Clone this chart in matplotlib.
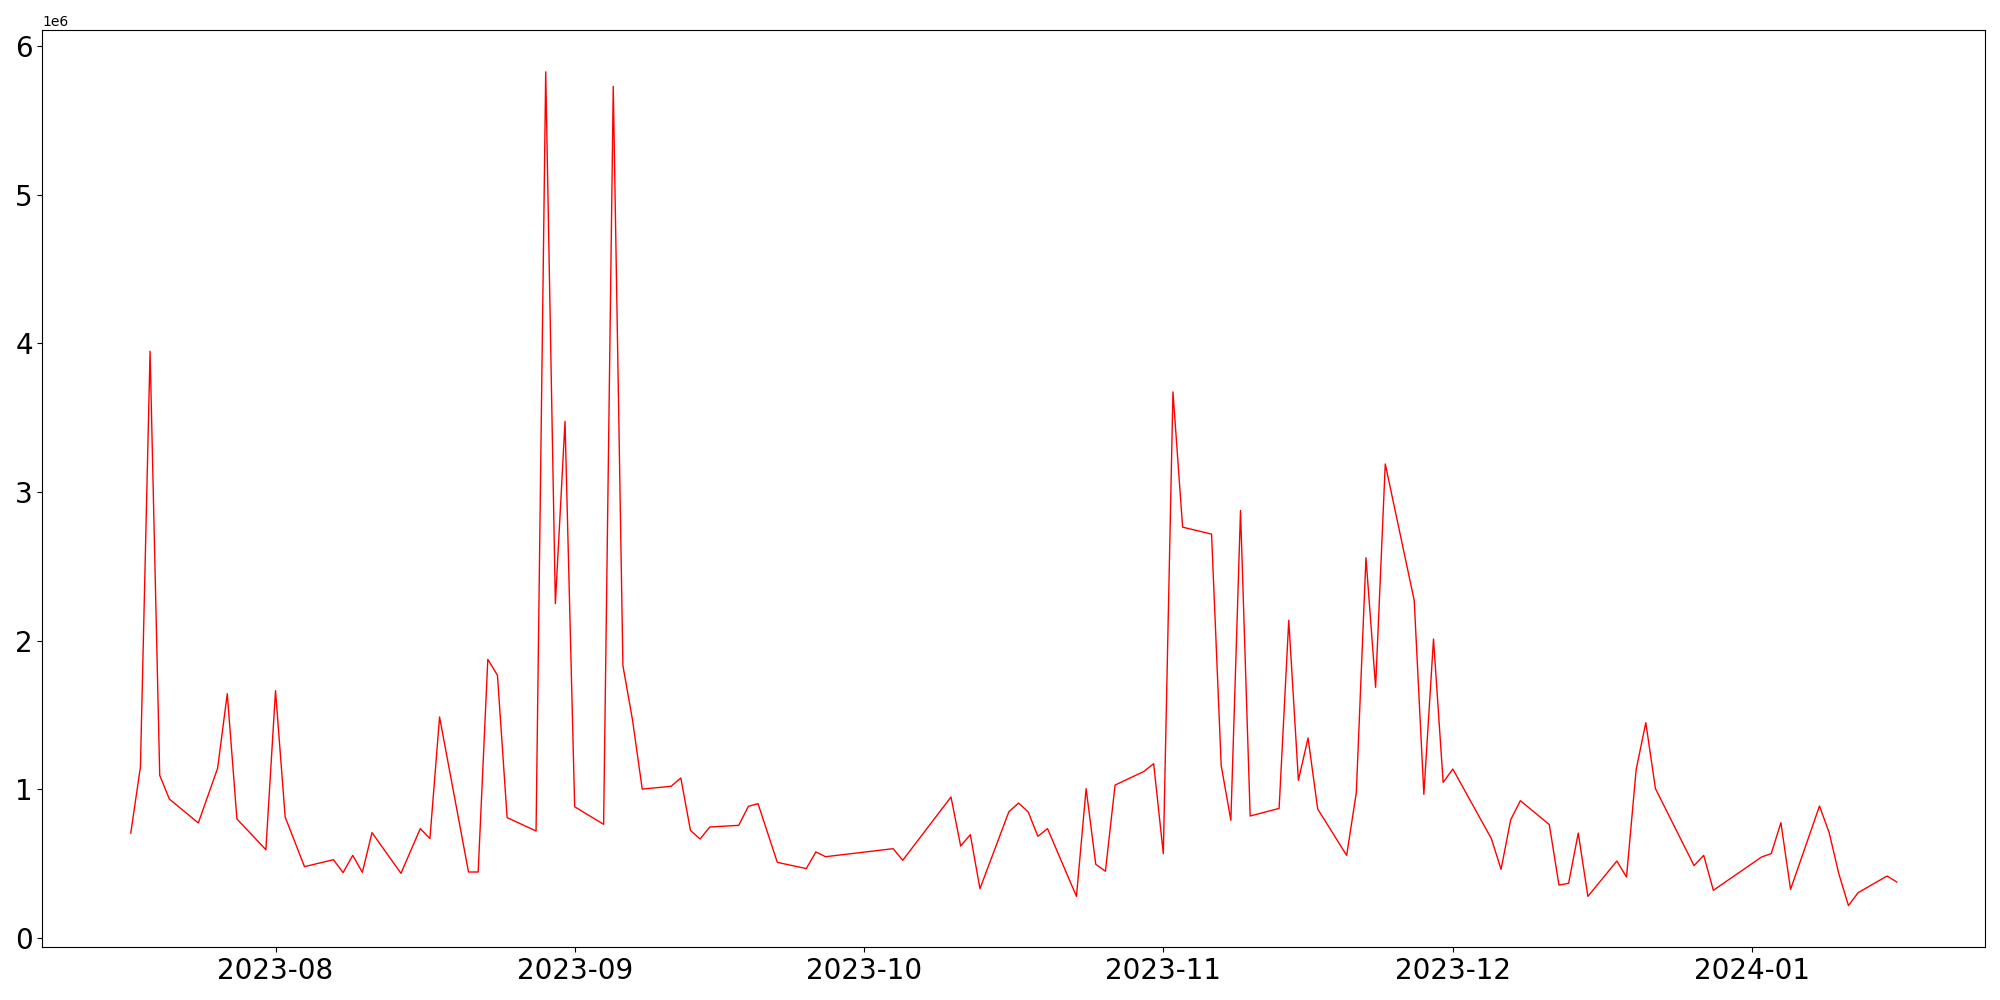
import pandas as pd
import matplotlib.pyplot as plt

# Daily values (units of 1e6)
dates = [
    '2023-07-17', '2023-07-18', '2023-07-19', '2023-07-20', '2023-07-21', '2023-07-24',
    '2023-07-26', '2023-07-27', '2023-07-28', '2023-07-31', '2023-08-01', '2023-08-02',
    '2023-08-04', '2023-08-07', '2023-08-08', '2023-08-09', '2023-08-10', '2023-08-11',
    '2023-08-14', '2023-08-16', '2023-08-17', '2023-08-18', '2023-08-21', '2023-08-22',
    '2023-08-23', '2023-08-24', '2023-08-25', '2023-08-28', '2023-08-29', '2023-08-30',
    '2023-08-31', '2023-09-01', '2023-09-04', '2023-09-05', '2023-09-06', '2023-09-07',
    '2023-09-08', '2023-09-11', '2023-09-12', '2023-09-13', '2023-09-14', '2023-09-15',
    '2023-09-18', '2023-09-19', '2023-09-20', '2023-09-22', '2023-09-25', '2023-09-26',
    '2023-09-27', '2023-10-04', '2023-10-05', '2023-10-10', '2023-10-11', '2023-10-12',
    '2023-10-13', '2023-10-16', '2023-10-17', '2023-10-18', '2023-10-19', '2023-10-20',
    '2023-10-23', '2023-10-24', '2023-10-25', '2023-10-26', '2023-10-27', '2023-10-30',
    '2023-10-31', '2023-11-01', '2023-11-02', '2023-11-03', '2023-11-06', '2023-11-07',
    '2023-11-08', '2023-11-09', '2023-11-10', '2023-11-13', '2023-11-14', '2023-11-15',
    '2023-11-16', '2023-11-17', '2023-11-20', '2023-11-21', '2023-11-22', '2023-11-23',
    '2023-11-24', '2023-11-27', '2023-11-28', '2023-11-29', '2023-11-30', '2023-12-01',
    '2023-12-05', '2023-12-06', '2023-12-07', '2023-12-08', '2023-12-11', '2023-12-12',
    '2023-12-13', '2023-12-14', '2023-12-15', '2023-12-18', '2023-12-19', '2023-12-20',
    '2023-12-21', '2023-12-22', '2023-12-26', '2023-12-27', '2023-12-28', '2024-01-02',
    '2024-01-03', '2024-01-04', '2024-01-05', '2024-01-08', '2024-01-09', '2024-01-10',
    '2024-01-11', '2024-01-12', '2024-01-15', '2024-01-16',
]
values_m = [
    0.705, 1.149, 3.948, 1.094, 0.934, 0.773,
    1.141, 1.643, 0.800, 0.593, 1.663, 0.813,
    0.479, 0.526, 0.439, 0.555, 0.441, 0.708,
    0.434, 0.735, 0.668, 1.486, 0.443, 0.443,
    1.874, 1.767, 0.809, 0.719, 5.828, 2.249,
    3.476, 0.882, 0.764, 5.730, 1.832, 1.464,
    1.001, 1.020, 1.076, 0.723, 0.665, 0.746,
    0.757, 0.885, 0.903, 0.508, 0.466, 0.578,
    0.546, 0.600, 0.522, 0.948, 0.618, 0.694,
    0.331, 0.849, 0.907, 0.847, 0.683, 0.735,
    0.279, 1.004, 0.495, 0.448, 1.028, 1.120,
    1.172, 0.567, 3.674, 2.764, 2.717, 1.159,
    0.791, 2.876, 0.820, 0.871, 2.137, 1.060,
    1.345, 0.867, 0.555, 0.977, 2.558, 1.686,
    3.189, 2.271, 0.966, 2.011, 1.046, 1.136,
    0.667, 0.461, 0.795, 0.923, 0.762, 0.355,
    0.367, 0.705, 0.279, 0.517, 0.409, 1.132,
    1.448, 1.004, 0.486, 0.555, 0.320, 0.544,
    0.567, 0.775, 0.326, 0.887, 0.708, 0.432,
    0.217, 0.304, 0.416, 0.376,
]

df = pd.DataFrame({'date': pd.to_datetime(dates), 'value': [v * 1e6 for v in values_m]})

fig, ax = plt.subplots(figsize=(20, 10), dpi=100)
ax.plot(df['date'], df['value'], color='red', linewidth=1)

plt.xticks(fontsize=20)
plt.yticks(fontsize=20)

plt.tight_layout()
plt.savefig('out.png')
